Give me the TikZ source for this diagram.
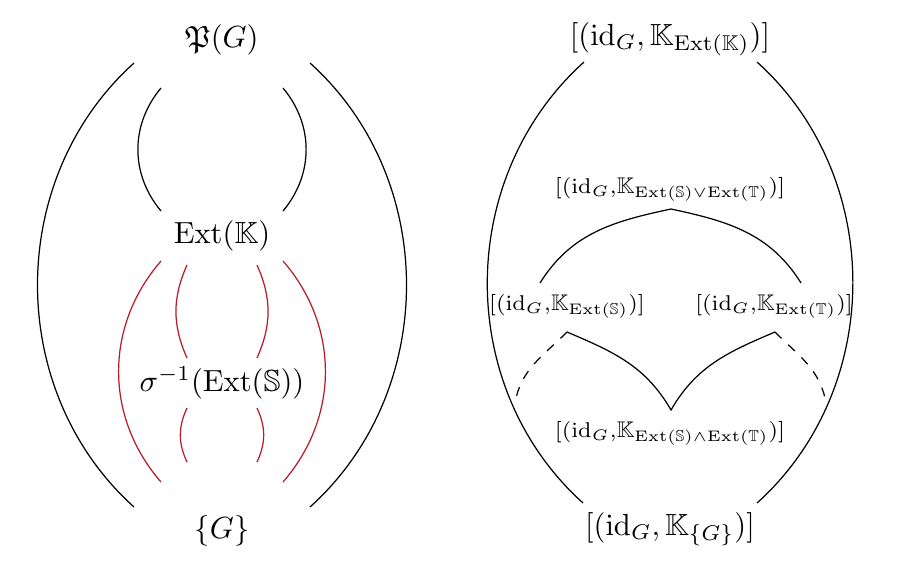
\documentclass[tikz,border=0pt]{standalone}
\usepackage{amsmath, amsfonts, amssymb}
\usetikzlibrary{calc}
\definecolor{intervalRed}{RGB}{185,25,40}

\begin{document}
\begin{tikzpicture}[x=0.0115cm, y=0.0115cm,
	smallLabel/.style={font=\fontsize{7.4}{9}\selectfont},
	redLink/.style={draw=intervalRed}]
	
	\useasboundingbox (0,0) rectangle (897,561);
	
	%Nodes (left)
	\node (powerSet) at (222, 521) [text centered] {$\mathfrak{P}(G)$};
	
	\node (extK) at (222, 325) [text centered] {$\mathrm{Ext}(\mathbb{K})$};
	
	\node (sigmaExt) at (222, 178) [text centered] {$\sigma^{-1}(\mathrm{Ext}(\mathbb{S}))$};
	
	\node (singleG) at (222, 30) [text centered] {$\{G\}$};
	
	%Nodes (right)
	\node (topClass) at (670, 522) [text centered] 
	{$[(\mathrm{id}_G, \mathbb{K}_{\mathrm{Ext}(\mathbb{K})})]$};
	
	\node (joinClass) at (670, 372) [smallLabel, text centered] 
	{$[(\mathrm{id}_G{,}\mathbb{K}_{\mathrm{Ext}(\mathbb{S})\vee\mathrm{Ext}(\mathbb{T})})]$};
	
	\node (sClass) at (567, 255) [smallLabel, text centered] 
	{$[(\mathrm{id}_G{,}\mathbb{K}_{\mathrm{Ext}(\mathbb{S})})]$};
	
	\node (tClass) at (774, 255) [smallLabel, text centered] 
	{$[(\mathrm{id}_G{,}\mathbb{K}_{\mathrm{Ext}(\mathbb{T})})]$};
	
	\node (meetClass) at (670, 128) [smallLabel, text centered] 
	{$[(\mathrm{id}_G{,}\mathbb{K}_{\mathrm{Ext}(\mathbb{S})\wedge\mathrm{Ext}(\mathbb{T})})]$};
	
	\node (bottomClass) at (670, 32) [text centered] 
	{$[(\mathrm{id}_G, \mathbb{K}_{\{G\}})]$};
	
	\coordinate (sTail) at (515, 158);
	\coordinate (tTail) at (826, 158);
	
	%Links (left)
	\draw ($(powerSet)+(-88,-23)$) to [out=222,in=138] ($(singleG)+(-88,24)$);
	\draw ($(powerSet)+(88,-23)$) to [out=-42,in=42] ($(singleG)+(88,24)$);
	\draw ($(powerSet)+(-61,-48)$) to [out=230,in=130] ($(extK)+(-61,25)$);
	\draw ($(powerSet)+(61,-48)$) to [out=-50,in=50] ($(extK)+(61,25)$);
	
	\draw [redLink] ($(extK)+(-61,-25)$) to [out=229,in=131] ($(singleG)+(-61,49)$);
	\draw [redLink] ($(extK)+(61,-25)$) to [out=-49,in=49] ($(singleG)+(61,49)$);
	\draw [redLink] ($(extK)+(-35,-29)$) to [out=246,in=114] ($(sigmaExt)+(-35,25)$);
	\draw [redLink] ($(extK)+(35,-29)$) to [out=-66,in=66] ($(sigmaExt)+(35,25)$);
	\draw [redLink] ($(sigmaExt)+(-35,-25)$) to [out=245,in=115] ($(singleG)+(-35,69)$);
	\draw [redLink] ($(sigmaExt)+(35,-25)$) to [out=-65,in=65] ($(singleG)+(35,69)$);
	
	%Links (right)
	\draw ($(topClass)+(-86,-23)$) to [out=222,in=138] ($(bottomClass)+(-87,26)$);
	\draw ($(topClass)+(87,-23)$) to [out=-42,in=42] ($(bottomClass)+(87,26)$);
	
	\draw ($(sClass)+(-27,23)$) to [out=58,in=192] ($(joinClass)+(1,-20)$) 
	to [out=-12,in=122] ($(tClass)+(27,23)$);
	\draw ($(sClass)+(0,-26)$) to [out=-23,in=120] ($(meetClass)+(1,23)$) 
	to [out=60,in=203] ($(tClass)+(1,-26)$);
	
	\draw [dashed] ($(sClass)+(0,-26)$) to [out=225,in=80] (sTail);
	\draw [dashed] ($(tClass)+(1,-26)$) to [out=-45,in=100] (tTail);
	
\end{tikzpicture}
\end{document}
